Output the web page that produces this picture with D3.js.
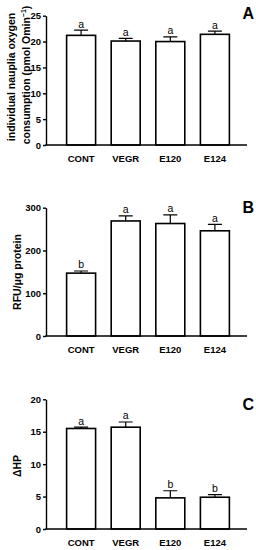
<!DOCTYPE html>
<html>
<head>
<meta charset="utf-8">
<script src="https://cdn.jsdelivr.net/npm/d3@7"></script>
<style>
	body { margin: 0; background: #fff; }
	text { font-family: "Liberation Sans", Arial, sans-serif; }
</style>
</head>
<body>
<div id="chart"></div>
<script>
const categories = ['CONT', 'VEGR', 'E120', 'E124'];

const oxygenMeans = [21.2, 20.1, 20.0, 21.4];
const oxygenErr = [1.0, 0.5, 0.9, 0.6];
const oxygenLetters = ['a', 'a', 'a', 'a'];
const oxygenTicks = [0, 5, 10, 15, 20, 25];

const rfuMeans = [147, 269, 263, 246];
const rfuErr = [5, 12, 20, 15];
const rfuLetters = ['b', 'a', 'a', 'a'];
const rfuTicks = [0, 100, 200, 300];

const hpMeans = [15.5, 15.7, 4.8, 4.9];
const hpErr = [0.2, 0.8, 1.1, 0.4];
const hpLetters = ['a', 'a', 'b', 'b'];
const hpTicks = [0, 5, 10, 15, 20];

const W = 256, H = 550;
const svg = d3.select('#chart').append('svg')
	.attr('width', W)
	.attr('height', H);

const x = d3.scaleBand()
	.domain(categories)
	.range([51, 245])
	.paddingInner(0.35)
	.paddingOuter(0.35);

function drawPanel(opt) {
	let g = svg.append('g');
	let y = d3.scaleLinear()
		.domain([0, d3.max(opt.ticks)])
		.range([opt.bottom, opt.top]);

	// bars
	g.selectAll('rect.bar')
		.data(opt.means)
		.enter()
		.append('rect')
		.attr('class', 'bar')
		.attr('x', (d, i) => x(categories[i]))
		.attr('y', d => y(d))
		.attr('width', x.bandwidth())
		.attr('height', d => y(0) - y(d))
		.attr('fill', '#fff')
		.attr('stroke', '#000')
		.attr('stroke-width', 1.6);

	// error bars (upper only)
	let cx = i => x(categories[i]) + x.bandwidth() / 2;
	g.selectAll('path.err')
		.data(opt.means)
		.enter()
		.append('path')
		.attr('class', 'err')
		.attr('d', (d, i) => {
			let top = y(d + opt.err[i]);
			return 'M' + cx(i) + ',' + y(d) + 'V' + top + 'M' + (cx(i) - 7) + ',' + top + 'H' + (cx(i) + 7);
		})
		.attr('stroke', '#000')
		.attr('stroke-width', 1.2)
		.attr('fill', 'none');

	// significance letters
	g.selectAll('text.sig')
		.data(opt.letters)
		.enter()
		.append('text')
		.attr('class', 'sig')
		.attr('x', (d, i) => cx(i))
		.attr('y', (d, i) => y(opt.means[i] + opt.err[i]) - 2.5)
		.attr('text-anchor', 'middle')
		.attr('font-size', 10.5)
		.text(d => d);

	// y axis
	let yAxis = g.append('g')
		.attr('transform', 'translate(46,0)')
		.call(d3.axisLeft(y).tickValues(opt.ticks).tickSize(3).tickSizeOuter(0).tickPadding(2));
	yAxis.selectAll('text')
		.attr('font-size', 9.5)
		.attr('font-weight', 'bold')
		.attr('font-family', '"Liberation Sans", Arial, sans-serif')
		.attr('fill', '#000');
	yAxis.selectAll('line, path').attr('stroke', '#000').attr('stroke-width', 1.4);

	// x axis line
	g.append('line')
		.attr('x1', 45.3)
		.attr('x2', 247)
		.attr('y1', y(0))
		.attr('y2', y(0))
		.attr('stroke', '#000')
		.attr('stroke-width', 1.4);

	// category labels
	g.selectAll('text.cat')
		.data(categories)
		.enter()
		.append('text')
		.attr('class', 'cat')
		.attr('x', d => x(d) + x.bandwidth() / 2)
		.attr('y', opt.bottom + 16.5)
		.attr('text-anchor', 'middle')
		.attr('font-size', 9.5)
		.attr('font-weight', 'bold')
		.text(d => d);

	// y title
	let title = g.append('text')
		.attr('transform', 'translate(' + opt.titleX + ',' + opt.titleY + ') rotate(-90)')
		.attr('text-anchor', 'middle')
		.attr('font-size', 10.5)
		.attr('font-weight', 'bold');
	opt.title(title);

	// panel letter
	g.append('text')
		.attr('x', 254)
		.attr('y', opt.letterY)
		.attr('text-anchor', 'end')
		.attr('font-size', 16)
		.attr('font-weight', 'bold')
		.text(opt.panel);
}

drawPanel({
	means: oxygenMeans, err: oxygenErr, letters: oxygenLetters, ticks: oxygenTicks,
	top: 15.7, bottom: 145, panel: 'A', letterY: 18.5, titleX: 0, titleY: 75,
	title: t => {
		t.append('tspan').attr('x', -2).attr('y', 15).text('individual nauplia oxygen');
		let l2 = t.append('tspan').attr('x', 0).attr('y', 29.5).text('consumption (pmol Omin');
		l2.append('tspan').attr('font-size', 7).attr('dy', -4).text('\u22121');
		l2.append('tspan').attr('dy', 4).text(')');
	}
});

drawPanel({
	means: rfuMeans, err: rfuErr, letters: rfuLetters, ticks: rfuTicks,
	top: 207.7, bottom: 336, panel: 'B', letterY: 213, titleX: 21, titleY: 272,
	title: t => t.text('RFU/\u03bcg protein')
});

drawPanel({
	means: hpMeans, err: hpErr, letters: hpLetters, ticks: hpTicks,
	top: 399.3, bottom: 529, panel: 'C', letterY: 410, titleX: 21, titleY: 466,
	title: t => t.text('\u0394HP')
});
</script>
</body>
</html>
